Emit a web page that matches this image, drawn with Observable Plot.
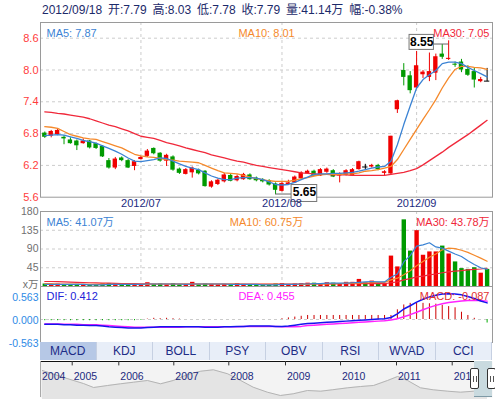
<!DOCTYPE html>
<html><head><meta charset="utf-8">
<script src="https://cdn.jsdelivr.net/npm/d3@7"></script>
<script src="https://cdn.jsdelivr.net/npm/@observablehq/plot@0.6"></script>
<style>
html,body{margin:0;padding:0;background:#fff;}
#wrap{position:relative;width:495px;height:399px;overflow:hidden;font-family:"Liberation Sans","Noto Sans CJK SC",sans-serif;}
.layer{position:absolute;left:0;}
.layer svg{display:block;overflow:visible;}
#header{position:absolute;left:42px;top:3px;font-size:12px;line-height:14px;color:#1c2a6a;white-space:pre;word-spacing:2.5px;}
#tabs{position:absolute;left:40px;top:342px;width:452px;height:18px;display:flex;}
.tab{width:56.5px;height:18px;line-height:18px;text-align:center;font-size:12px;color:#1d2c86;background:#e8eef8;border-right:1px solid #c6d0e2;box-sizing:border-box;}
.tab.sel{background:#b6c8e6;}
#sel{position:absolute;left:474px;top:361px;width:18px;height:36px;background:#c9dadf;border-bottom:1px solid #7e9aa6;box-sizing:border-box;}
.handle{position:absolute;top:368px;width:9px;height:21px;background:#fff;border:1px solid #333;border-radius:2px;box-sizing:border-box;}
.grip{position:absolute;top:7px;width:1px;height:6px;background:#555;}
</style></head>
<body>
<div id="wrap"><div id="header"></div></div>
<script>
// ---------- data ----------
const lastDate = "2012/09/18";
const monthLabels = ["2012/07", "2012/08", "2012/09"];
const monthIdx = [15, 37, 58];
const priceTicks = [5.6, 6.2, 6.8, 7.4, 8.0, 8.6];
const volTicks = [0, 45, 90, 135, 180];
const volTickLabels = ["x万", "45", "90", "135", "180"];
const macdTicks = [-0.563, 0, 0.563];
const tabNames = ["MACD", "KDJ", "BOLL", "PSY", "OBV", "RSI", "WVAD", "CCI"];
const navTickYears = [2005, 2006, 2007, 2008, 2009, 2010, 2011, 2012];
const navLabelYears = [2004, 2005, 2006, 2007, 2008, 2009, 2010, 2011, 2012];

const open = [6.81,6.75,6.78,6.73,6.68, 6.66,6.61,6.66,6.61,6.56, 6.29,6.15,6.34,6.29,6.18, 6.31,6.37,6.52,6.43,6.28,
  6.36,6.13,6.03,6.06,6.11, 6.09,5.79,5.84,5.89,6.01, 5.91,5.93,6.02,5.96,5.93, 5.91,5.85,5.71,5.84,5.87,
  5.95,6.04,6.09,6.00,6.07, 6.10,6.00,6.01,6.00,6.12, 6.17,6.17,6.20,6.05,6.04, 7.25,7.99,7.89,7.66,7.91,
  7.86,7.94,8.30,8.20,8.11, 8.15,8.01,7.97,7.78,7.79];
const close = [6.73,6.84,6.86,6.70,6.61, 6.57,6.66,6.53,6.52,6.36, 6.15,6.32,6.29,6.15,6.27, 6.35,6.47,6.42,6.28,6.39,
  6.11,6.05,6.12,6.15,6.04, 5.80,5.89,5.92,6.02,5.90, 5.99,6.03,5.93,5.91,5.89, 5.83,5.73,5.86,5.87,5.98,
  6.06,6.09,6.00,6.12,6.13, 5.98,6.04,6.10,6.12,6.27, 6.17,6.20,6.12,6.08,6.75, 7.42,7.86,7.61,8.08,7.96,
  7.97,8.25,8.24,8.22,8.09, 8.00,7.90,7.81,7.82,7.79];
const high = [6.83,6.86,6.89,6.76,6.72, 6.68,6.70,6.67,6.62,6.57, 6.33,6.35,6.36,6.31,6.29, 6.37,6.50,6.53,6.44,6.41,
  6.38,6.15,6.14,6.17,6.13, 6.10,5.91,5.94,6.05,6.04, 6.02,6.05,6.04,5.98,5.95, 5.93,5.87,5.89,5.92,6.00,
  6.08,6.11,6.11,6.14,6.15, 6.12,6.06,6.12,6.14,6.28, 6.22,6.22,6.22,6.10,6.75, 7.43,8.12,7.97,8.35,7.99,
  8.32,8.30,8.48,8.55,8.15, 8.20,8.08,8.03,7.86,8.03];
const low = [6.71,6.72,6.76,6.59,6.60, 6.48,6.60,6.51,6.50,6.35, 6.13,6.12,6.27,6.14,6.10, 6.30,6.35,6.40,6.26,6.18,
  6.09,6.03,6.02,5.96,6.02, 5.79,5.77,5.82,5.87,5.89, 5.89,5.92,5.92,5.89,5.87, 5.81,5.65,5.70,5.82,5.86,
  5.94,6.03,5.99,5.99,6.05, 5.97,5.87,6.00,5.99,6.11, 6.12,6.15,6.10,6.00,6.02, 7.18,7.70,7.55,7.64,7.84,
  7.78,7.80,8.20,8.18,8.05, 7.95,7.88,7.66,7.76,7.78];

const ma5 = [6.76,6.77,6.78,6.77,6.74, 6.71,6.67,6.65,6.62,6.57, 6.52,6.47,6.41,6.34,6.28, 6.27,6.29,6.31,6.34,6.33,
  6.28,6.23,6.18,6.15,6.12, 6.06,6.00,5.96,5.93,5.93, 5.96,5.97,5.97,5.96,5.93, 5.89,5.84,5.83,5.84,5.88,
  5.93,5.98,6.03,6.04,6.04, 6.05,6.05,6.06,6.07,6.09, 6.12,6.15,6.17,6.18,6.28, 6.59,6.97,7.32,7.66,7.82,
  7.91,7.99,8.12,8.15,8.15, 8.12,8.05,7.99,7.93,7.87];
const ma10 = [6.93,6.92,6.90,6.84,6.78, 6.75,6.72,6.70,6.69,6.65, 6.61,6.57,6.53,6.47,6.41, 6.38,6.36,6.35,6.33,6.31,
  6.30,6.28,6.27,6.26,6.25, 6.20,6.15,6.10,6.06,6.05, 6.04,6.01,5.98,5.95,5.93, 5.91,5.90,5.90,5.90,5.92,
  5.95,5.97,6.00,6.02,6.03, 6.03,6.03,6.04,6.04,6.06, 6.09,6.10,6.12,6.15,6.18, 6.31,6.50,6.69,6.88,7.07,
  7.25,7.44,7.66,7.85,8.01, 8.07,8.07,8.05,8.04,8.01];
const ma30 = [7.21,7.20,7.18,7.17,7.15, 7.13,7.11,7.08,7.04,7.00, 6.96,6.93,6.89,6.85,6.80, 6.75,6.73,6.71,6.67,6.63,
  6.60,6.57,6.53,6.50,6.47, 6.44,6.40,6.37,6.34,6.31, 6.28,6.26,6.23,6.20,6.18, 6.16,6.14,6.12,6.10,6.08,
  6.06,6.05,6.04,6.03,6.03, 6.02,6.02,6.02,6.01,6.01, 6.01,6.01,6.01,6.01,6.03, 6.05,6.07,6.10,6.14,6.21,
  6.29,6.37,6.45,6.54,6.62, 6.70,6.78,6.87,6.96,7.05];

const vol = [6,5,6,4,4, 5,3,4,3,6, 7,7,3,5,5, 4,9,5,6,4, 7,4,5,10,4, 6,5,4,5,4, 7,5,4,3,3, 4,6,7,4,6,
  7,8,8,7,9, 8,7,10,10,17, 9,13,8,7,73, 47,160,85,134,75, 83,83,97,78,59, 43,41,45,32,41.14];
const volMa5 = [5,5,5,5,5, 5,5,4,4,4, 5,5,5,5,5, 5,6,6,6,6, 6,6,5,6,6, 6,6,6,6,5, 5,5,5,5,4, 4,4,5,5,5,
  6,6,7,7,8, 8,8,8,9,10, 11,12,11,11,22, 30,59,74,97,100, 105,95,92,85,78, 72,62,53,45,41.07];
const volMa10 = [7,7,6,6,6, 6,5,5,5,5, 5,5,5,5,5, 5,5,6,6,6, 6,6,6,6,6, 6,6,6,6,6, 6,5,5,5,5, 5,5,5,5,5,
  5,5,6,6,6, 7,7,8,8,8, 9,9,10,10,16, 20,28,38,50,60, 70,78,88,92,91, 87,82,75,68,60.75];
const volMa30 = [12,12,11.5,11,10.5, 10,9.5,9,8.5,8, 8,7.5,7,7,7, 6.5,6.5,6,6,6, 6,6,6,6,6, 6,6,6,6,6, 6,6,6,6,6, 6,6,6,6,6,
  6,6,6,6.5,6.5, 6.5,7,7,7,7, 7,7,7,7,9, 11,16,19,23,25, 28,30,33,35,37, 38,40,41,42,43.78];

const dif = [-0.12,-0.12,-0.12,-0.13,-0.13, -0.14,-0.14,-0.15,-0.15,-0.16, -0.18,-0.19,-0.20,-0.21,-0.21,
  -0.21,-0.20,-0.19,-0.18,-0.18, -0.18,-0.18,-0.18,-0.18,-0.18, -0.19,-0.19,-0.19,-0.18,-0.18,
  -0.17,-0.17,-0.16,-0.16,-0.16, -0.16,-0.17,-0.17,-0.16,-0.14, -0.12,-0.10,-0.09,-0.08,-0.07,
  -0.06,-0.05,-0.04,-0.03,-0.02, -0.01,0.00,0.01,0.02,0.05, 0.14,0.26,0.34,0.43,0.50,
  0.56,0.60,0.63,0.64,0.63, 0.61,0.57,0.52,0.46,0.412];
const dea = [-0.11,-0.11,-0.11,-0.12,-0.12, -0.12,-0.13,-0.13,-0.13,-0.14, -0.15,-0.16,-0.17,-0.18,-0.19,
  -0.19,-0.19,-0.19,-0.19,-0.19, -0.19,-0.19,-0.18,-0.18,-0.18, -0.18,-0.18,-0.18,-0.18,-0.18,
  -0.18,-0.17,-0.17,-0.17,-0.17, -0.17,-0.17,-0.18,-0.18,-0.18, -0.17,-0.15,-0.14,-0.13,-0.12,
  -0.11,-0.10,-0.09,-0.08,-0.07, -0.06,-0.05,-0.04,-0.03,-0.01, 0.02,0.07,0.12,0.18,0.24,
  0.30,0.35,0.39,0.42,0.44, 0.46,0.47,0.47,0.47,0.455];
const macdBar = [-0.03,-0.03,-0.03,-0.03,-0.03, -0.03,-0.03,-0.03,-0.03,-0.03, -0.03,-0.03,-0.03,-0.03,-0.03,
  -0.02,0.01,0.03,0.02,0.03, 0.02,0.01,0,0,0, 0,0,0,0,0, 0,0,0,0,0, 0,0,0.02,0.04,0.06,
  0.08,0.10,0.10,0.10,0.10, 0.10,0.10,0.10,0.10,0.10, 0.10,0.10,0.10,0.10,0.10,
  0.24,0.36,0.40,0.41,0.40, 0.39,0.38,0.35,0.32,0.29, 0.18,0.10,0.03,0,-0.087];

const navYear = [2004.36,2004.54,2004.89,2005.24,2005.46,2005.76,2006.03,2006.27,2006.52,2006.76,2006.99,
  2007.25,2007.49,2007.72,2007.98,2008.21,2008.43,2008.68,2008.91,2009.14,2009.40,2009.64,2009.85,
  2010.13,2010.36,2010.59,2010.84,2011.02,2011.20,2011.43,2011.66,2011.92,2012.15,2012.38,2012.63];
const navValue = [15,13.65,11,8.5,6.5,7.5,8.35,9.15,10,8.35,10,13,14.65,15.35,13.35,10,6.65,4.15,2.5,3.35,5,
  4.65,5.35,6.35,7,7.5,10,12,10,6.35,5.35,4.65,4.15,4.65,5.35];

// ---------- helpers ----------
const fam = "'Liberation Sans','Noto Sans CJK SC',sans-serif";
const N = close.length;
const idx = d3.range(N);
const xDomain = [-0.67, 69.84];
const RED = "#f00000", GREEN = "#009a00";
const candleColor = i => close[i] > open[i] ? RED : close[i] < open[i] ? GREEN : "#000";
const volColor = i => close[i] > open[i] ? RED : close[i] < open[i] ? GREEN : (i > 0 && close[i] < close[i-1] ? GREEN : RED);
const grid = {stroke: "#cccccc", strokeDasharray: "3,3", strokeWidth: 1};
const style = {background: "transparent", fontFamily: fam, fontSize: "11px", overflow: "visible"};
const wrap = document.getElementById("wrap");
function place(el, top) {
  const d = document.createElement("div");
  d.className = "layer"; d.style.top = top + "px";
  d.appendChild(el); wrap.appendChild(d);
}

// header
const L = N - 1;
const pct = ((close[L] - close[L-1]) / close[L-1] * 100).toFixed(2);
document.getElementById("header").textContent =
  `${lastDate} 开:${open[L].toFixed(2)} 高:${high[L].toFixed(2)} 低:${low[L].toFixed(2)} 收:${close[L].toFixed(2)} 量:${vol[L].toFixed(2)}万 幅:${pct}%`;

// ---------- main price panel ----------
const hi = d3.maxIndex(high), lo = d3.minIndex(low);
place(Plot.plot({
  width: 495, height: 212, marginLeft: 40, marginRight: 3, marginTop: 22, marginBottom: 15.3,
  x: {domain: xDomain, axis: null}, y: {domain: [5.6, 8.896], axis: null}, style,
  marks: [
    Plot.ruleY(priceTicks.filter(t => t > 5.6), {y: d => d, ...grid}),
    Plot.ruleX(monthIdx, {x: d => d, ...grid}),
    Plot.frame({stroke: "#9a9a9a"}),
    Plot.text(priceTicks, {y: d => d, frameAnchor: "left", textAnchor: "end", dx: -2, text: d => d.toFixed(1), fill: "#ff3c3c", fontSize: 11}),
    Plot.ruleX(idx, {x: i => i, y1: i => low[i], y2: i => high[i], stroke: candleColor, strokeWidth: 1}),
    Plot.rect(idx.filter(i => open[i] !== close[i]), {x1: i => i - 0.34, x2: i => i + 0.34, y1: i => open[i], y2: i => close[i], fill: candleColor}),
    Plot.ruleY(idx.filter(i => open[i] === close[i]), {y: i => close[i], x1: i => i - 0.42, x2: i => i + 0.42, stroke: "#000"}),
    Plot.lineY(ma30, {stroke: "#f0283a", strokeWidth: 1.3}),
    Plot.lineY(ma10, {stroke: "#f5892b", strokeWidth: 1.3}),
    Plot.lineY(ma5, {stroke: "#3b83d4", strokeWidth: 1.3}),
    Plot.text([`MA5: ${ma5[L].toFixed(2)}`], {frameAnchor: "top-left", dx: 6, dy: 7, textAnchor: "start", fill: "#3b83d4", fontSize: 11}),
    Plot.text([`MA10: ${ma10[L].toFixed(2)}`], {frameAnchor: "top", dy: 7, fill: "#f5892b", fontSize: 11}),
    Plot.text([`MA30: ${ma30[L].toFixed(2)}`], {frameAnchor: "top-right", dx: -3, dy: 7, textAnchor: "end", fill: "#f0283a", fontSize: 11}),
    // max annotation
    Plot.ruleY([hi], {y: i => high[i] - 0.06, x1: i => i - 2.3, x2: i => i, stroke: "#666"}),
    Plot.rect([hi], {x1: i => i - 6.1, x2: i => i - 2.3, y1: i => high[i] - 0.171, y2: i => high[i] + 0.112, fill: "#fff", stroke: "#777"}),
    Plot.text([hi], {x: i => i - 4.2, y: i => high[i] - 0.03, text: i => high[i].toFixed(2), fontWeight: "bold", fontSize: 12, fill: "#000"}),
    // min annotation
    Plot.ruleY([lo], {y: i => low[i] + 0.01, x1: i => i, x2: i => i + 2.5, stroke: "#666"}),
    Plot.rect([lo], {x1: i => i + 2.5, x2: i => i + 6.5, y1: i => low[i] - 0.14, y2: i => low[i] + 0.18, fill: "#fff", stroke: "#777"}),
    Plot.text([lo], {x: i => i + 4.5, y: i => low[i] + 0.04, text: i => low[i].toFixed(2), fontWeight: "bold", fontSize: 12, fill: "#000"}),
    Plot.text(monthIdx, {x: d => d, frameAnchor: "bottom", dy: 10, text: (d, i) => monthLabels[i], fill: "#1c2a80", fontSize: 11})
  ]
}), 0);

// ---------- volume panel ----------
place(Plot.plot({
  width: 495, height: 90, marginLeft: 40, marginRight: 3, marginTop: 11, marginBottom: 4,
  x: {domain: xDomain, axis: null}, y: {domain: [0, 180], axis: null}, style,
  marks: [
    Plot.ruleY(volTicks.slice(1, -1), {y: d => d, ...grid}),
    Plot.ruleX(monthIdx, {x: d => d, ...grid}),
    Plot.frame({stroke: "#9a9a9a"}),
    Plot.text(volTicks.slice(1), {y: d => d, frameAnchor: "left", textAnchor: "end", dx: -2, text: (d, i) => volTickLabels[i + 1], fill: "#707070", fontSize: 10.5}),
    Plot.text(volTicks.slice(0, 1), {y: d => d, frameAnchor: "left", textAnchor: "end", dx: -2, dy: -2, text: (d, i) => volTickLabels[i], fill: "#707070", fontSize: 10.5}),
    Plot.ruleX(idx, {x: i => i, y1: 0, y2: i => vol[i], stroke: volColor, strokeWidth: 4.4}),
    Plot.lineY(volMa30, {stroke: "#f0283a", strokeWidth: 1.2}),
    Plot.lineY(volMa10, {stroke: "#f5892b", strokeWidth: 1.2}),
    Plot.lineY(volMa5, {stroke: "#3b83d4", strokeWidth: 1.2}),
    Plot.text([`MA5: ${volMa5[L].toFixed(2)}万`], {frameAnchor: "top-left", dx: 6, dy: 7, textAnchor: "start", fill: "#3b83d4", fontSize: 11}),
    Plot.text([`MA10: ${volMa10[L].toFixed(2)}万`], {frameAnchor: "top", dy: 7, fill: "#f5892b", fontSize: 11}),
    Plot.text([`MA30: ${volMa30[L].toFixed(2)}万`], {frameAnchor: "top-right", dx: -3, dy: 7, textAnchor: "end", fill: "#f0283a", fontSize: 11})
  ]
}), 200);

// ---------- MACD panel ----------
place(Plot.plot({
  width: 495, height: 65, marginLeft: 40, marginRight: 3, marginTop: 6, marginBottom: 3,
  x: {domain: xDomain, axis: null}, y: {domain: [-0.569, 0.817], axis: null}, style,
  marks: [
    Plot.ruleY([0], {...grid}),
    Plot.frame({stroke: "#9a9a9a"}),
    Plot.text(macdTicks, {y: d => d, frameAnchor: "left", textAnchor: "end", dx: -2, dy: 1, text: d => d.toFixed(3), fill: "#2d8ae6", fontSize: 10.5}),
    Plot.ruleX(idx, {x: i => i, y1: 0, y2: i => macdBar[i], stroke: i => macdBar[i] >= 0 ? "#cc0000" : "#00aa00", strokeWidth: 1}),
    Plot.lineY(dea, {stroke: "#ff22ff", strokeWidth: 1.5}),
    Plot.lineY(dif, {stroke: "#1414ee", strokeWidth: 1.5}),
    Plot.text([`DIF: ${dif[L].toFixed(3)}`], {frameAnchor: "top-left", dx: 6, dy: 6, textAnchor: "start", fill: "#2222d8", fontSize: 11}),
    Plot.text([`DEA: ${dea[L].toFixed(3)}`], {frameAnchor: "top", dy: 6, fill: "#ff22ff", fontSize: 11}),
    Plot.text([`MACD: ${macdBar[L].toFixed(3)}`], {frameAnchor: "top-right", dx: -3, dy: 6, textAnchor: "end", fill: "#e23232", fontSize: 11})
  ]
}), 280);

// ---------- tabs ----------
const tabs = document.createElement("div");
tabs.id = "tabs";
tabNames.forEach((t, k) => {
  const d = document.createElement("div");
  d.className = "tab" + (k === 0 ? " sel" : "");
  d.textContent = t;
  tabs.appendChild(d);
});
wrap.appendChild(tabs);

// ---------- navigator ----------
const navStart = 2004.32;
place(Plot.plot({
  width: 495, height: 39, marginLeft: 40, marginRight: 3, marginTop: 1, marginBottom: 2,
  x: {type: "linear", domain: [navStart, 2005, 2006, 2007, 2008, 2009, 2010, 2011, 2012, 2012.72],
      range: [40, 71.7, 118.3, 173.3, 228.3, 285, 340, 396, 451.7, 492], axis: null},
  y: {domain: [1.5, 19.5], axis: null}, style,
  marks: [
    Plot.frame({fill: "#f3f3f3", stroke: null}),
    Plot.areaY(navValue, {x: (d, i) => navYear[i], y: d => d, fill: "#e4e4e4"}),
    Plot.lineY(navValue, {x: (d, i) => navYear[i], y: d => d, stroke: "#b4b4b4", strokeWidth: 1}),
    Plot.ruleY([19.5], {stroke: "#111", strokeWidth: 1.2}),
    Plot.ruleX([navStart], {stroke: "#aaa"}),
    Plot.ruleX(navTickYears, {x: d => d, y1: 19.5, y2: 17.3, stroke: "#333"}),
    Plot.text(navLabelYears, {x: d => Math.max(d, navStart), frameAnchor: "top", dy: 11, dx: 1.5, textAnchor: "start", text: d => String(d), fill: "#1c2a80", fontSize: 10.5})
  ]
}), 360);

const sel = document.createElement("div"); sel.id = "sel"; wrap.appendChild(sel);
[470, 487].forEach(x => {
  const h = document.createElement("div"); h.className = "handle"; h.style.left = x + "px";
  [2, 5].forEach(gx => { const g = document.createElement("div"); g.className = "grip"; g.style.left = gx + "px"; h.appendChild(g); });
  wrap.appendChild(h);
});
</script>
</body></html>
